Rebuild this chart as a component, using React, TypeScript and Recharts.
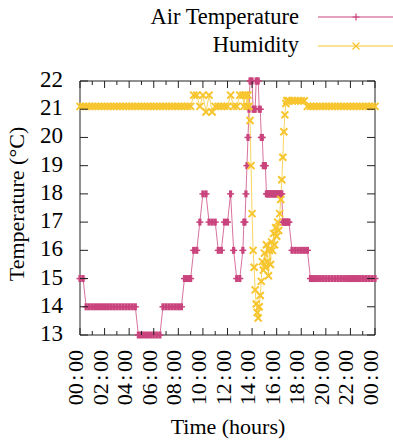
import { LineChart, Line, XAxis, YAxis, ReferenceArea } from 'recharts'

// sample times in minutes since midnight (denser during the afternoon swing)
const minutes = [
  0, 15, 30, 45, 60, 75, 90, 105, 120, 135, 150, 165, 180, 195, 210, 225, 240, 255, 270, 285, 300, 315, 330, 345, 360, 375, 390,
  405, 420, 435, 450, 465, 480, 495, 510, 525, 540, 555, 570, 585, 600, 615, 630, 645, 660, 675, 690, 705, 720, 735, 750, 765, 780, 795,
  800, 805, 810, 815, 820, 825, 830, 835, 840, 845, 850, 855, 860, 865, 870, 875, 880, 885, 890, 895, 900, 905, 910, 915, 920, 925,
  930, 935, 940, 945, 950, 955, 960, 965, 970, 975, 980, 985, 990, 995, 1000, 1005, 1010, 1015, 1020,
  1035, 1050, 1065, 1080, 1095, 1110, 1125, 1140, 1155, 1170, 1185, 1200, 1215, 1230, 1245, 1260, 1275, 1290, 1305, 1320, 1335, 1350,
  1365, 1380, 1395, 1410, 1425, 1440,
]

const airTemperature = [
  15, 15, 14, 14, 14, 14, 14, 14, 14, 14, 14, 14, 14, 14, 14, 14, 14, 14, 14, 13, 13, 13, 13, 13, 13, 13, 13,
  14, 14, 14, 14, 14, 14, 14, 15, 15, 15, 16, 16, 17, 18, 18, 17, 17, 17, 16, 16, 17, 17, 18, 16, 15, 15, 16,
  17, 17, 18, 19, 20, 21, 22, 22, 22, 21, 21, 21, 22, 22, 22, 21, 21, 20, 20, 19, 19, 19, 18, 18, 18, 18,
  18, 18, 18, 18, 18, 18, 18, 18, 18, 18, 18, 18, 17, 17, 17, 17, 17, 17, 17,
  16, 16, 16, 16, 16, 16, 15, 15, 15, 15, 15, 15, 15, 15, 15, 15, 15, 15, 15, 15, 15, 15,
  15, 15, 15, 15, 15, 15,
]

const humidity = [
  21.1, 21.1, 21.1, 21.1, 21.1, 21.1, 21.1, 21.1, 21.1, 21.1, 21.1, 21.1, 21.1, 21.1, 21.1, 21.1, 21.1, 21.1, 21.1, 21.1, 21.1, 21.1, 21.1, 21.1, 21.1, 21.1, 21.1,
  21.1, 21.1, 21.1, 21.1, 21.1, 21.1, 21.1, 21.1, 21.1, 21.1, 21.5, 21.5, 21.1, 21.5, 20.9, 21.5, 20.9, 21.1, 21.1, 21.1, 21.1, 21.1, 21.5, 21.1, 21.1, 21.5, 21.5,
  21.1, 21.5, 21.5, 21.1, 21.5, 21.1, 20.6, 19.0, 17.3, 16.0, 15.4, 14.6, 14.1, 13.8, 13.6, 14.0, 14.4, 14.9, 15.6, 15.3, 15.9, 15.4, 16.2, 15.6, 15.1, 16.0,
  15.5, 16.3, 16.0, 16.6, 16.2, 16.8, 16.5, 17.0, 16.7, 17.3, 17.8, 18.5, 19.3, 20.2, 20.8, 21.2, 21.3, 21.3, 21.3,
  21.3, 21.3, 21.3, 21.3, 21.3, 21.1, 21.1, 21.1, 21.1, 21.1, 21.1, 21.1, 21.1, 21.1, 21.1, 21.1, 21.1, 21.1, 21.1, 21.1, 21.1, 21.1,
  21.1, 21.1, 21.1, 21.1, 21.1, 21.1,
]

const hourTicks = [0, 60, 120, 180, 240, 300, 360, 420, 480, 540, 600, 660, 720, 780, 840, 900, 960, 1020, 1080, 1140, 1200, 1260, 1320, 1380, 1440]
const tempTicks = [13, 14, 15, 16, 17, 18, 19, 20, 21, 22]

const data = minutes.map((m, i) => ({ m, temp: airTemperature[i], hum: humidity[i] }))

const PINK = '#c9437c'
const YELLOW = '#f7c52e'
const INK = '#222'
const FONT = "'Liberation Serif', 'DejaVu Serif', serif"
const TOP = 81, BOTTOM = 335, LEFT = 80, RIGHT = 375

const plusDot = (p: any) => {
  const { cx, cy, index } = p
  if (cx == null || cy == null) return <g key={index} />
  return (
    <g key={index}>
      <line x1={cx - 3.5} x2={cx + 3.5} y1={cy} y2={cy} stroke={PINK} strokeWidth={1.5} />
      <line x1={cx} x2={cx} y1={cy - 3.5} y2={cy + 3.5} stroke={PINK} strokeWidth={3.2} />
    </g>
  )
}

const crossDot = (p: any) => {
  const { cx, cy, index } = p
  if (cx == null || cy == null) return <g key={index} />
  return <path key={index} d={`M${cx-3.5},${cy-3.5}L${cx+3.5},${cy+3.5}M${cx-3.5},${cy+3.5}L${cx+3.5},${cy-3.5}`} stroke={YELLOW} strokeWidth={2} fill="none" />
}

function XTick({ x, payload }: any) {
  const m = payload.value
  const major = m % 120 === 0
  const len = major ? 7 : 4
  const hh = String((m / 60) % 24).padStart(2, '0')
  return (
    <g>
      <line x1={x} x2={x} y1={BOTTOM} y2={BOTTOM - len} stroke={INK} />
      <line x1={x} x2={x} y1={TOP} y2={TOP + len} stroke={INK} />
      {major && (
        <text transform={`translate(${x + 3},350) rotate(-90)`} textAnchor="end" fontSize={22} style={{ fontFamily: FONT }} fill="#000">
          {hh}<tspan dx={2.5}>:</tspan><tspan dx={2.5}>00</tspan>
        </text>
      )}
    </g>
  )
}

function YTick({ y, payload }: any) {
  return (
    <g>
      <line x1={LEFT} x2={LEFT + 8} y1={y} y2={y} stroke={INK} />
      <line x1={RIGHT} x2={RIGHT - 8} y1={y} y2={y} stroke={INK} />
      <text x={63} y={y + 6} textAnchor="end" fontSize={23} style={{ fontFamily: FONT }} fill="#000">{payload.value}</text>
    </g>
  )
}

function Legend() {
  return (
    <svg width={393} height={70} style={{ position: 'absolute', left: 0, top: 0 }}>
      <text x={299} y={24} textAnchor="end" fontSize={22.5} style={{ fontFamily: FONT }}>Air Temperature</text>
      <line x1={318} x2={393} y1={17} y2={17} stroke={PINK} />
      <path d="M352.5,17h7M356,13.5v7" stroke={PINK} strokeWidth={1.2} />
      <text x={299} y={52} textAnchor="end" fontSize={22.5} style={{ fontFamily: FONT }}>Humidity</text>
      <line x1={318} x2={393} y1={46} y2={46} stroke={YELLOW} />
      <path d="M352.5,42.5l7,7M352.5,49.5l7,-7" stroke={YELLOW} strokeWidth={1.2} />
    </svg>
  )
}

export default function App() {
  return (
    <div style={{ position: 'absolute', left: 0, top: 0, width: 393, height: 444, background: '#fff' }}>
      <LineChart width={393} height={444} data={data} margin={{ top: TOP, right: 393 - RIGHT, bottom: 0, left: 0 }}>
        <XAxis type="number" dataKey="m" domain={[0, 1440]} ticks={hourTicks} interval={0} height={444 - BOTTOM}
          axisLine={false} tickLine={false} tick={<XTick />} />
        <YAxis type="number" domain={[13, 22]} ticks={tempTicks} interval={0} width={LEFT}
          axisLine={false} tickLine={false} tick={<YTick />} />
        <ReferenceArea x1={0} x2={1440} y1={13} y2={22} fill="none" stroke={INK} strokeWidth={1} strokeOpacity={1} />
        <Line dataKey="temp" stroke={PINK} strokeWidth={1} strokeOpacity={0.75} dot={plusDot} activeDot={false} isAnimationActive={false} />
        <Line dataKey="hum" stroke={YELLOW} strokeWidth={1} strokeOpacity={0.75} dot={crossDot} activeDot={false} isAnimationActive={false} />
        <text transform="translate(24,204) rotate(-90)" textAnchor="middle" fontSize={22} style={{ fontFamily: FONT }}>Temperature (°C)</text>
        <text x={228} y={434} textAnchor="middle" fontSize={22} style={{ fontFamily: FONT }}>Time (hours)</text>
      </LineChart>
      <Legend />
    </div>
  )
}
